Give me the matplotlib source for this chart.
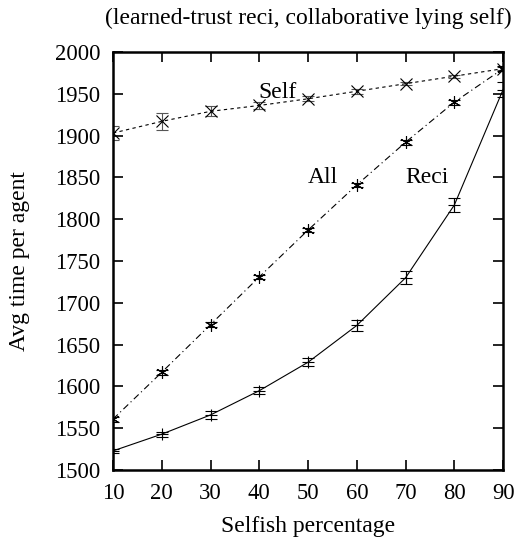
import matplotlib
matplotlib.use("Agg")
import matplotlib.pyplot as plt

plt.rcParams['font.family'] = ['Liberation Serif', 'DejaVu Serif']

x = [10, 20, 30, 40, 50, 60, 70, 80, 90]
self_vals = [1903, 1917, 1929, 1936, 1944, 1953, 1962, 1971, 1980]
self_err = [8, 10, 6, 4, 3, 3, 2, 2, 2]
all_vals = [1561, 1617, 1674, 1731, 1787, 1841, 1892, 1940, 1980]
all_err = [3, 3, 3, 2, 2, 2, 3, 3, 3]
reci_vals = [1523, 1543, 1566, 1595, 1629, 1673, 1730, 1817, 1955]
reci_err = [2, 3, 5, 4, 5, 7, 8, 8, 9]

fig = plt.figure(figsize=(5.16, 5.41), dpi=100)
ax = fig.add_axes([0.219, 0.131, 0.756, 0.773])

ax.errorbar(x, self_vals, yerr=self_err, color='black', linestyle=(0, (3, 3)), linewidth=0.8,
            marker='x', markersize=8, markeredgewidth=0.8, capsize=4, elinewidth=0.8, ecolor='#555555')
ax.errorbar(x, all_vals, yerr=all_err, color='black', linestyle=(0, (6, 3, 1, 3)), linewidth=0.8,
            marker=(6, 2, 0), markersize=9, markeredgewidth=0.8, capsize=4, elinewidth=0.8)
ax.errorbar(x, reci_vals, yerr=reci_err, color='black', linestyle='-', linewidth=0.8,
            marker='+', markersize=8, markeredgewidth=0.8, capsize=4, elinewidth=0.8)

ax.text(43.8, 1951, 'Self', fontsize=17, ha='center', va='center')
ax.text(53.1, 1850, 'All', fontsize=17, ha='center', va='center')
ax.text(74.4, 1850, 'Reci', fontsize=17, ha='center', va='center')

ax.set_xlim(10, 90)
ax.set_ylim(1500, 2000)
ax.set_xticks(x)
ax.set_yticks(range(1500, 2001, 50))
ax.tick_params(direction='in', top=True, right=True, length=7, width=1.2, labelsize=16.3, pad=9)
for s in ax.spines.values():
    s.set_linewidth(1.8)

ax.set_xlabel('Selfish percentage', fontsize=17, labelpad=9)
ax.set_ylabel('Avg time per agent', fontsize=17, labelpad=18)
ax.set_title('(learned-trust reci, collaborative lying self)', fontsize=17, pad=20)

fig.savefig('out.png', dpi=100)
